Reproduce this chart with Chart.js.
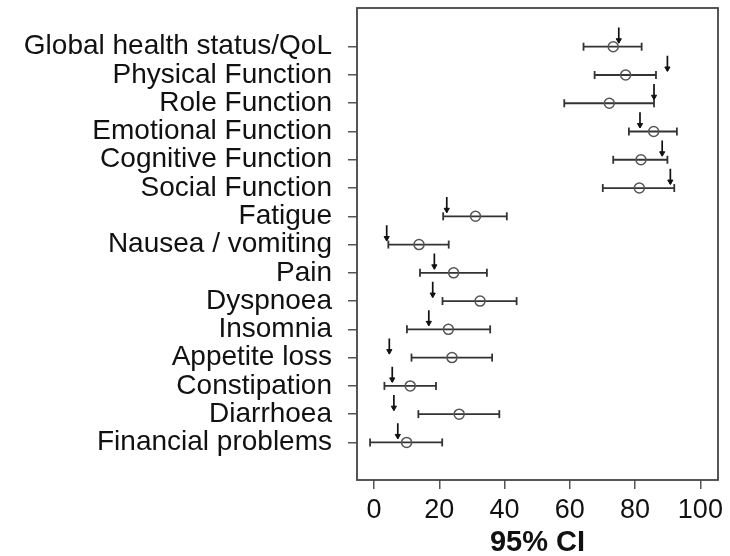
<!DOCTYPE html>
<html>
<head>
<meta charset="utf-8">
<script src="https://cdn.jsdelivr.net/npm/chart.js@4.4.1/dist/chart.umd.min.js"></script>
<style>
  html, body { margin: 0; padding: 0; background: #ffffff; }
  #wrap { width: 730px; height: 556px; }
</style>
</head>
<body>
<div id="wrap"><canvas id="c" width="730" height="556"></canvas></div>
<script>
const categories = [
  "Global health status/QoL", "Physical Function", "Role Function",
  "Emotional Function", "Cognitive Function", "Social Function",
  "Fatigue", "Nausea / vomiting", "Pain", "Dyspnoea", "Insomnia",
  "Appetite loss", "Constipation", "Diarrhoea", "Financial problems"
];
const means = [73.3, 77.1, 72.1, 85.7, 81.8, 81.3, 31.1, 13.8, 24.4, 32.5, 22.8, 23.9, 11.1, 26.1, 10.0];
const lower = [64.2, 67.6, 58.3, 78.1, 73.3, 70.1, 21.2, 4.4, 14.1, 21.0, 10.1, 11.5, 3.2, 13.6, -1.2];
const upper = [82.0, 86.4, 85.8, 92.8, 89.9, 92.0, 40.7, 22.9, 34.6, 43.7, 35.6, 36.2, 19.0, 38.4, 20.9];
const reference = [75.0, 89.9, 85.8, 81.5, 88.3, 90.8, 22.3, 3.9, 18.5, 18.0, 16.8, 4.7, 5.6, 6.1, 7.3];
const xTicks = [0, 20, 40, 60, 80, 100];
const xTitle = "95% CI";

// arrow geometry (category units above the row)
const ARROW_TOP = 0.68, ARROW_END = 0.14, HEAD_CENTER = 0.23;

const barPts = [], capPts = [], meanPts = [], shaftPts = [], headPts = [];
categories.forEach((c, i) => {
  barPts.push({x: lower[i], y: i}, {x: upper[i], y: i}, {x: null, y: null});
  capPts.push({x: lower[i], y: i}, {x: upper[i], y: i});
  meanPts.push({x: means[i], y: i});
  shaftPts.push({x: reference[i], y: i - ARROW_TOP}, {x: reference[i], y: i - ARROW_END}, {x: null, y: null});
  headPts.push({x: reference[i], y: i - HEAD_CENTER});
});

const FONT = "'Liberation Sans', Arial, Helvetica, sans-serif";

const boxPlugin = {
  id: 'box',
  afterDraw(chart) {
    const a = chart.chartArea, ctx = chart.ctx;
    ctx.save();
    ctx.strokeStyle = '#444';
    ctx.lineWidth = 1.8;
    ctx.strokeRect(a.left, a.top, a.right - a.left, a.bottom - a.top);
    ctx.restore();
  }
};

new Chart(document.getElementById('c'), {
  type: 'scatter',
  data: {
    datasets: [
      { type: 'line', data: barPts, borderColor: '#333', borderWidth: 1.8, pointRadius: 0, spanGaps: false, fill: false, order: 4 },
      { type: 'scatter', data: capPts, pointStyle: 'line', rotation: 90, pointRadius: 4, borderColor: '#333', borderWidth: 1.8, order: 3 },
      { type: 'scatter', data: meanPts, pointStyle: 'circle', pointRadius: 5, backgroundColor: 'rgba(255,255,255,0)', borderColor: '#555', borderWidth: 1.5, order: 2 },
      { type: 'line', data: shaftPts, borderColor: '#111', borderWidth: 1.7, pointRadius: 0, spanGaps: false, fill: false, order: 1 },
      { type: 'scatter', data: headPts, pointStyle: 'triangle', rotation: 180, pointRadius: 3, backgroundColor: '#111', borderColor: '#111', borderWidth: 1, order: 0 }
    ]
  },
  options: {
    responsive: false,
    animation: false,
    events: [],
    layout: { padding: { top: 8, right: 12, left: 0, bottom: 0 } },
    plugins: { legend: { display: false }, tooltip: { enabled: false } },
    scales: {
      x: {
        type: 'linear',
        min: -5.2, max: 105.4,
        afterBuildTicks(scale) { scale.ticks = xTicks.map(v => ({ value: v })); },
        afterFit(scale) { scale.height = 76; scale.paddingLeft = 0; scale.paddingRight = 0; },
        border: { display: false },
        grid: { drawOnChartArea: false, drawTicks: true, tickLength: 9, color: '#555', lineWidth: 1.5 },
        ticks: { color: '#111', font: { family: FONT, size: 27 }, padding: 5, maxRotation: 0, autoSkip: false },
        title: { display: true, text: xTitle, color: '#111', font: { family: FONT, size: 29, weight: 'bold' }, padding: { top: 6, bottom: -4 } }
      },
      y: {
        type: 'linear',
        reverse: true,
        min: -1.37, max: 15.33,
        afterBuildTicks(scale) { scale.ticks = categories.map((c, i) => ({ value: i })); },
        afterFit(scale) { scale.width = 357; scale.paddingTop = 0; scale.paddingBottom = 0; },
        border: { display: false },
        grid: { drawOnChartArea: false, drawTicks: true, tickLength: 9, color: '#555', lineWidth: 1.5 },
        ticks: {
          color: '#111', font: { family: FONT, size: 28 }, padding: 16, autoSkip: false,
          callback: (v) => categories[Math.round(v)] ?? ''
        }
      }
    }
  },
  plugins: [boxPlugin]
});
</script>
</body>
</html>
